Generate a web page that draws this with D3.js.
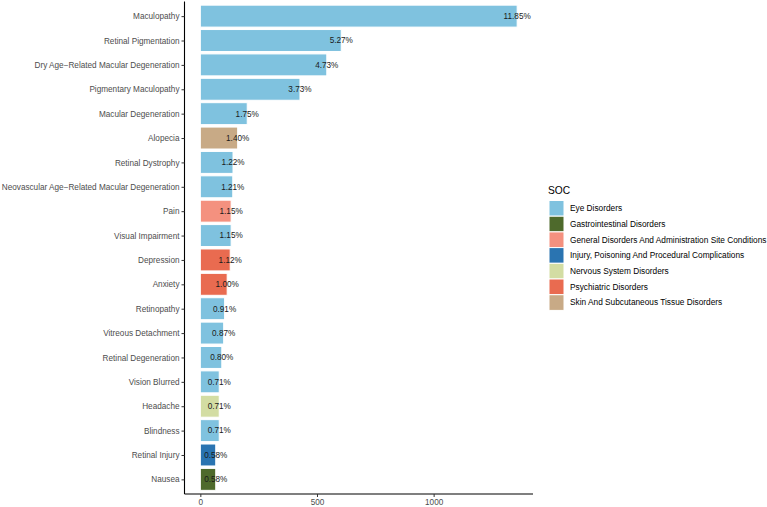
<!DOCTYPE html>
<html>
<head>
<meta charset="utf-8">
<script src="https://cdn.jsdelivr.net/npm/d3@7"></script>
<style>
  body { margin: 0; background: #fff; }
  svg text { font-family: "Liberation Sans", Arial, sans-serif; }
</style>
</head>
<body>
<div id="chart"></div>
<script>
'use strict';

// Data (counts)
var terms = [
  'Maculopathy', 'Retinal Pigmentation', 'Dry Age\u2212Related Macular Degeneration',
  'Pigmentary Maculopathy', 'Macular Degeneration', 'Alopecia', 'Retinal Dystrophy',
  'Neovascular Age\u2212Related Macular Degeneration', 'Pain', 'Visual Impairment',
  'Depression', 'Anxiety', 'Retinopathy', 'Vitreous Detachment', 'Retinal Degeneration',
  'Vision Blurred', 'Headache', 'Blindness', 'Retinal Injury', 'Nausea'
]
var counts = [1358, 604, 542, 427, 201, 160, 140, 139, 132, 132, 128, 115, 104, 100, 92, 81, 81, 81, 66, 66]
var pctLabels = ['11.85%', '5.27%', '4.73%', '3.73%', '1.75%', '1.40%', '1.22%', '1.21%', '1.15%', '1.15%',
  '1.12%', '1.00%', '0.91%', '0.87%', '0.80%', '0.71%', '0.71%', '0.71%', '0.58%', '0.58%']
var socs = ['Eye Disorders', 'Eye Disorders', 'Eye Disorders', 'Eye Disorders', 'Eye Disorders',
  'Skin And Subcutaneous Tissue Disorders', 'Eye Disorders', 'Eye Disorders',
  'General Disorders And Administration Site Conditions', 'Eye Disorders',
  'Psychiatric Disorders', 'Psychiatric Disorders', 'Eye Disorders', 'Eye Disorders',
  'Eye Disorders', 'Eye Disorders', 'Nervous System Disorders', 'Eye Disorders',
  'Injury, Poisoning And Procedural Complications', 'Gastrointestinal Disorders']

var socLevels = ['Eye Disorders', 'Gastrointestinal Disorders',
  'General Disorders And Administration Site Conditions',
  'Injury, Poisoning And Procedural Complications', 'Nervous System Disorders',
  'Psychiatric Disorders', 'Skin And Subcutaneous Tissue Disorders']
var socColors = ['#7fc2df', '#4e6a2c', '#f4917f', '#2a74b1', '#d3dda3', '#e96b50', '#c8aa86']
var xTicks = [0, 500, 1000]

var data = terms.map(function(t, i){
  return {term: t, count: counts[i], pct: pctLabels[i], soc: socs[i]}
})

var width = 767, height = 507
var panel = {left: 184.5, right: 533, top: 1.5, bottom: 494}

var svg = d3.select('#chart').append('svg')
  .attr('width', width)
  .attr('height', height)

var maxCount = d3.max(counts)
var x = d3.scaleLinear()
  .domain([-0.05 * maxCount, 1.05 * maxCount])
  .range([panel.left, panel.right])

var y = d3.scalePoint()
  .domain(terms)
  .range([panel.top, panel.bottom])
  .padding(0.6)

var color = d3.scaleOrdinal().domain(socLevels).range(socColors)
var barH = y.step() * 0.9

// Bars
svg.append('g').selectAll('rect')
  .data(data)
  .enter().append('rect')
    .attr('x', x(0))
    .attr('y', function(d){ return y(d.term) - barH / 2 })
    .attr('width', function(d){ return x(d.count) - x(0) })
    .attr('height', barH)
    .attr('fill', function(d){ return color(d.soc) })
    .attr('stroke', '#fff')
    .attr('stroke-width', 1)

// Percent labels, centred on bar end
svg.append('g').selectAll('text')
  .data(data)
  .enter().append('text')
    .attr('x', function(d){ return x(d.count) })
    .attr('y', function(d){ return y(d.term) })
    .attr('dy', '0.35em')
    .attr('text-anchor', 'middle')
    .attr('font-size', 8.2)
    .attr('fill', '#1a1a1a')
    .text(function(d){ return d.pct })

// Axes
var yAxis = d3.axisLeft(y).tickSize(3).tickPadding(2)
var gy = svg.append('g')
  .attr('transform', 'translate(' + panel.left + ',0)')
  .call(yAxis)

var xAxis = d3.axisBottom(x).tickValues(xTicks).tickSize(3).tickPadding(2).tickFormat(d3.format('d'))
var gx = svg.append('g')
  .attr('transform', 'translate(0,' + panel.bottom + ')')
  .call(xAxis)

;[gx, gy].forEach(function(g){
  g.select('.domain').attr('stroke', '#000').attr('stroke-width', 1.1)
  g.selectAll('.tick line').attr('stroke', '#333')
  g.selectAll('.tick text')
    .attr('fill', '#4d4d4d')
    .attr('font-size', 8.2)
    .attr('font-family', '"Liberation Sans", Arial, sans-serif')
})
gy.select('.domain').attr('d', 'M0,' + panel.top + 'V' + panel.bottom)
gx.select('.domain').attr('d', 'M' + panel.left + ',0H' + panel.right)

// Legend
var legend = svg.append('g').attr('transform', 'translate(548,0)')
legend.append('text')
  .attr('x', 0)
  .attr('y', 194)
  .attr('font-size', 10.2)
  .attr('fill', '#000')
  .text('SOC')

var keyStep = 15.7
var items = legend.selectAll('g.item')
  .data(socLevels)
  .enter().append('g')
    .attr('class', 'item')
    .attr('transform', function(d, i){ return 'translate(0,' + (200.5 + i * keyStep) + ')' })

items.append('rect')
  .attr('x', 1)
  .attr('y', 0)
  .attr('width', 15)
  .attr('height', keyStep)
  .attr('fill', function(d){ return color(d) })
  .attr('stroke', '#fff')
  .attr('stroke-width', 1)

items.append('text')
  .attr('x', 22)
  .attr('y', keyStep / 2)
  .attr('dy', '0.35em')
  .attr('font-size', 8.3)
  .attr('fill', '#000')
  .text(function(d){ return d })
</script>
</body>
</html>
